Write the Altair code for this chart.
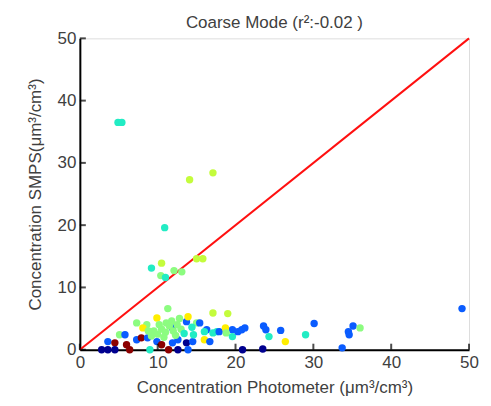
import altair as alt
import pandas as pd

# scatter points: photometer (x), SMPS (y), colour group
xs = [4.9, 5.4, 14.1, 17.1, 10.9, 9.2, 10.5, 10.4, 11.0, 12.1, 13.1, 15.0, 15.8,
      11.3, 17.1, 19.0, 9.9, 7.3, 8.6, 8.1, 11.1, 11.9, 13.7, 13.9, 15.0, 16.3, 17.6, 19.6,
      5.1, 5.8, 3.6, 4.5, 6.0, 7.3, 7.9, 8.7, 9.9, 10.5, 11.9, 12.6, 13.7, 14.5,
      2.8, 3.6, 4.5, 6.4, 9.0, 11.4, 12.6, 13.9,
      9.5, 10.0, 10.5, 11.0, 11.5, 12.0, 12.5, 13.0, 12.3, 10.8, 9.2, 11.8, 13.4, 12.8,
      10.2, 14.4, 8.8, 14.6,
      15.4, 16.0, 17.1, 17.9, 18.7, 18.8, 19.6, 20.3, 20.8, 21.2, 16.0, 16.7, 20.9, 23.5,
      23.6, 23.9, 24.3, 25.8, 26.4, 29.0, 30.1, 33.7, 34.5, 34.6, 35.1, 36.0, 49.1]
ys = [36.5, 36.5, 27.3, 28.4, 19.6, 13.1, 13.9, 11.9, 11.6, 12.7, 12.5, 14.6, 14.6,
      6.6, 5.9, 5.8, 5.1, 4.3, 4.0, 3.5, 4.3, 3.5, 4.5, 5.3, 4.3, 3.2, 2.9, 3.2,
      2.4, 2.4, 1.3, 1.1, 0.8, 1.6, 1.9, 1.9, 1.3, 0.8, 1.1, 1.6, 1.1, 1.3,
      0.0, 0.0, 0.0, 0.0, 0.0, 0.0, 0.0, 0.0,
      3.0, 2.5, 3.3, 2.8, 3.8, 3.0, 4.0, 3.3, 2.3, 2.0, 2.2, 4.6, 2.6, 5.0,
      4.0, 3.6, 3.0, 2.4,
      4.3, 2.9, 2.7, 2.9, 3.5, 2.7, 2.1, 2.9, 3.2, 3.5, 1.6, 1.3, 0.0, 0.1,
      3.8, 3.2, 2.1, 3.1, 1.3, 2.4, 4.2, 0.3, 2.9, 2.4, 3.8, 3.5, 6.6]
groups = ["t", "t", "yg", "yg", "t", "t", "yg", "g", "t", "g", "g", "yg", "yg",
          "g", "yg", "yg", "y", "g", "g", "y", "g", "b", "b", "y", "g", "b", "t", "b",
          "g", "b", "b", "r", "r", "b", "r", "b", "b", "r", "b", "b", "db", "b",
          "db", "db", "db", "r", "t", "r", "db", "b",
          "g", "g", "g", "g", "g", "g", "g", "g", "g", "g", "g", "g", "t", "g",
          "g", "t", "g", "t",
          "b", "t", "t", "b", "y", "g", "t", "b", "b", "b", "y", "b", "db", "db",
          "b", "b", "t", "b", "y", "t", "b", "b", "b", "b", "b", "g", "b"]

group_names = ["db", "b", "t", "g", "yg", "y", "r"]
group_colors = ["#00008f", "#0a5cff", "#22ecc4", "#8cfc80", "#c4fc3c", "#ffee00", "#8c0000"]

line_x = [0, 50]
line_y = [0, 50]
tick_values = [0, 10, 20, 30, 40, 50]

pts = pd.DataFrame({"x": xs, "y": ys, "g": groups})
line_df = pd.DataFrame({"x": line_x, "y": line_y})
ticks_df = pd.DataFrame({"t": tick_values})

font = "Liberation Sans"
txt = "#404040"

xscale = alt.Scale(domain=[0, 50], nice=False)
yscale = alt.Scale(domain=[0, 50], nice=False)

xaxis = alt.Axis(values=tick_values, title="Concentration Photometer (μm³/cm³)",
                 grid=False, domainColor="black", domainWidth=2, ticks=False,
                 labelFlush=False,
                 labelFont=font, labelFontSize=17, labelColor=txt, labelPadding=5,
                 titleFont=font, titleFontSize=17, titleFontWeight="normal",
                 titleColor=txt, titlePadding=9)
yaxis = alt.Axis(values=tick_values, title="Concentration SMPS(μm³/cm³)",
                 grid=False, domainColor="black", domainWidth=2, ticks=False,
                 labelFlush=False,
                 labelFont=font, labelFontSize=17, labelColor=txt, labelPadding=4,
                 titleFont=font, titleFontSize=17, titleFontWeight="normal",
                 titleColor=txt, titlePadding=13)

points = alt.Chart(pts).mark_circle(size=55, opacity=1).encode(
    x=alt.X("x:Q", scale=xscale, axis=xaxis),
    y=alt.Y("y:Q", scale=yscale, axis=yaxis),
    color=alt.Color("g:N", scale=alt.Scale(domain=group_names, range=group_colors), legend=None),
)

line = alt.Chart(line_df).mark_line(color="#ff1010", strokeWidth=2).encode(
    x=alt.X("x:Q", scale=xscale),
    y=alt.Y("y:Q", scale=yscale),
)

xticks = alt.Chart(ticks_df).mark_tick(color="black", thickness=2, size=6, yOffset=-3,
                                       orient="vertical").encode(
    x=alt.X("t:Q", scale=xscale), y=alt.value(312))
yticks = alt.Chart(ticks_df).mark_tick(color="black", thickness=2, size=6, xOffset=3,
                                       orient="horizontal").encode(
    y=alt.Y("t:Q", scale=yscale), x=alt.value(0))

chart = alt.layer(line, points, xticks, yticks).properties(
    width=390, height=312,
    title=alt.TitleParams("Coarse Mode (r²:-0.02 )", font=font, fontSize=17,
                          fontWeight="normal", color=txt, offset=-3),
    autosize=alt.AutoSizeParams(type="none"),
    padding={"left": 72, "top": 30, "right": 14, "bottom": 50},
).configure_view(stroke=None).configure(background="white")

chart.save("out.html", embed_options={"renderer": "svg", "actions": False})
